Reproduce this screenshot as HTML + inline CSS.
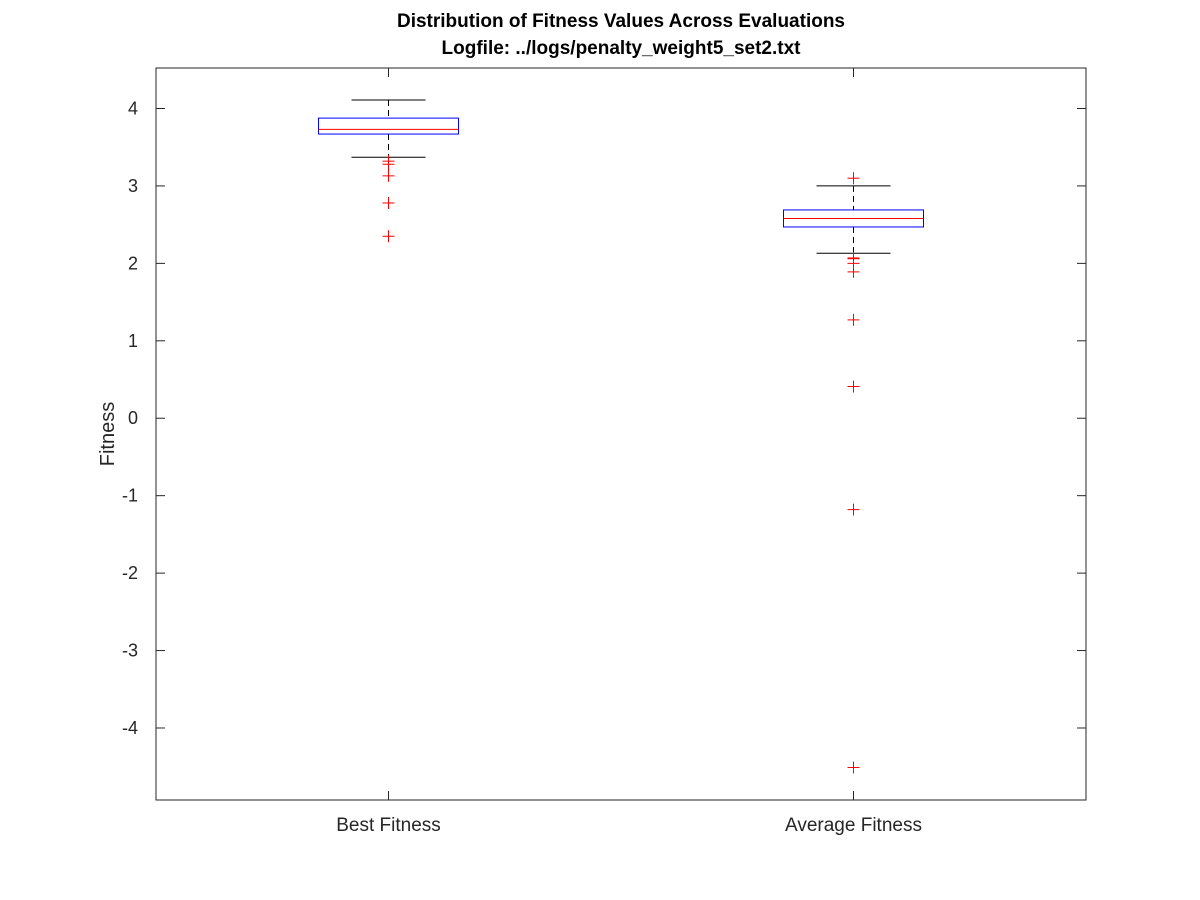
<!DOCTYPE html>
<html>
<head>
<meta charset="utf-8">
<style>
  html, body { margin: 0; padding: 0; background: #fff; }
  svg { display: block; font-family: "Liberation Sans", Arial, sans-serif; }
</style>
</head>
<body>
<svg id="chart" width="1200" height="900" viewBox="0 0 1200 900">
  <rect x="0" y="0" width="1200" height="900" fill="#fff"/>
  <text x="621" y="27" text-anchor="middle" font-size="19" font-weight="bold" fill="#000">Distribution of Fitness Values Across Evaluations</text>
  <text x="621" y="54" text-anchor="middle" font-size="19" font-weight="bold" fill="#000">Logfile: ../logs/penalty_weight5_set2.txt</text>
  <text transform="translate(114,434) rotate(-90)" text-anchor="middle" font-size="20" fill="#262626">Fitness</text>
  <g id="plot"></g>
</svg>
<script>
const categories = ["Best Fitness", "Average Fitness"];
const whiskerHigh = [4.11, 3.00];
const q3 = [3.876, 2.69];
const medians = [3.73, 2.58];
const q1 = [3.67, 2.47];
const whiskerLow = [3.37, 2.13];
const outliersBest = [3.32, 3.28, 3.13, 2.78, 2.35];
const outliersAvg = [3.10, 2.07, 2.06, 2.00, 1.89, 1.27, 0.41, -1.18, -4.51];
const yTicks = [-4, -3, -2, -1, 0, 1, 2, 3, 4];

const L = 156, R = 1086, T = 68, B = 800;
const yMin = -4.93, yMax = 4.523;
function y(v) { return B - (v - yMin) / (yMax - yMin) * (B - T); }
function x(i) { return L + (R - L) * (i + 0.5) / categories.length; }

const NS = "http://www.w3.org/2000/svg";
const g = document.getElementById("plot");
function mk(tag, attrs, name, parent) {
  const el = document.createElementNS(NS, tag);
  for (const k in attrs) el.setAttribute(k, attrs[k]);
  
  
  (parent || g).appendChild(el);
  return el;
}

mk("rect", {x: L, y: T, width: R - L, height: B - T, fill: "none", stroke: "#262626", "stroke-width": 1}, "plot-area");

yTicks.forEach(t => {
  const yy = y(t);
  mk("line", {x1: L, x2: L + 9, y1: yy, y2: yy, stroke: "#262626"}, "y-tick");
  mk("line", {x1: R, x2: R - 9, y1: yy, y2: yy, stroke: "#262626"}, "y-tick-right");
  const tx = mk("text", {x: L - 18, y: yy + 6, "text-anchor": "end", "font-size": 18, fill: "#262626"}, "y-tick-label");
  tx.textContent = String(t);
});

const outliers = [outliersBest, outliersAvg];
const halfW = 70, capW = 37;
categories.forEach((c, i) => {
  const cx = x(i);
  mk("line", {x1: cx, x2: cx, y1: B, y2: B - 9, stroke: "#262626"}, "x-tick");
  mk("line", {x1: cx, x2: cx, y1: T, y2: T + 9, stroke: "#262626"}, "x-tick-top");
  const lab = mk("text", {x: cx, y: 831, "text-anchor": "middle", "font-size": 19, fill: "#262626"}, "x-tick-label");
  lab.textContent = c;
  mk("line", {x1: cx, x2: cx, y1: y(whiskerHigh[i]), y2: y(q3[i]), stroke: "#000", "stroke-dasharray": "6,4"}, "upper-whisker");
  mk("line", {x1: cx, x2: cx, y1: y(q1[i]), y2: y(whiskerLow[i]), stroke: "#000", "stroke-dasharray": "6,4"}, "lower-whisker");
  mk("line", {x1: cx - capW, x2: cx + capW, y1: y(whiskerHigh[i]), y2: y(whiskerHigh[i]), stroke: "#000"}, "upper-cap");
  mk("line", {x1: cx - capW, x2: cx + capW, y1: y(whiskerLow[i]), y2: y(whiskerLow[i]), stroke: "#000"}, "lower-cap");
  mk("rect", {x: cx - halfW, y: y(q3[i]), width: 2 * halfW, height: y(q1[i]) - y(q3[i]), fill: "none", stroke: "#0000ff"}, "box-" + i);
  mk("line", {x1: cx - halfW, x2: cx + halfW, y1: y(medians[i]), y2: y(medians[i]), stroke: "#ff0000"}, "median-line");
  outliers[i].forEach(v => {
    const yy = y(v);
    mk("line", {x1: cx - 6, x2: cx + 6, y1: yy, y2: yy, stroke: "#ff0000"}, "outlier-h");
    mk("line", {x1: cx, x2: cx, y1: yy - 6, y2: yy + 6, stroke: "#ff0000"}, "outlier-v");
  });
});
</script>
</body>
</html>
